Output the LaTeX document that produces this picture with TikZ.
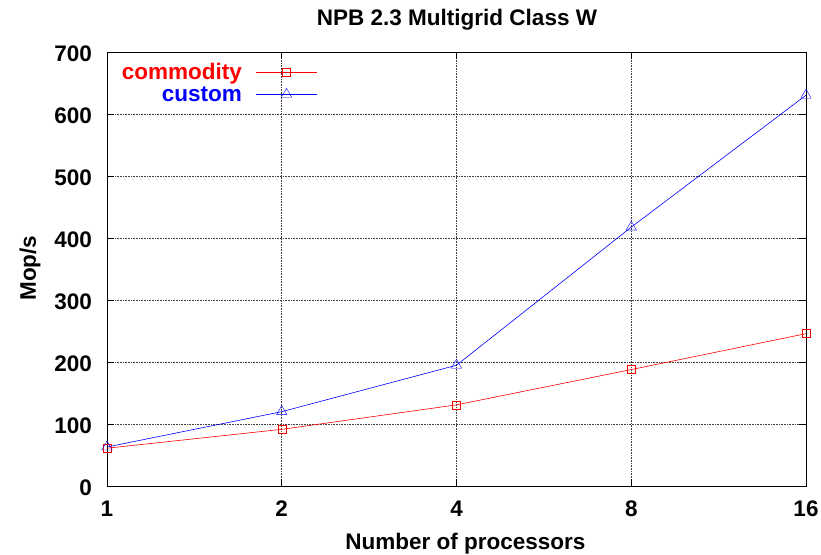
\documentclass[tikz,border=0pt]{standalone}
\usepackage{fontspec}
\setmainfont{Liberation Sans}
\usetikzlibrary{positioning, shapes.geometric}
\tikzset{x=1pt, y=1pt}
\tikzset{lbl/.style={font=\bfseries\fontsize{22.5}{24}\selectfont, inner sep=0pt}}
\tikzset{gridline/.style={black!75, densely dotted, line width=0.6pt}}
\tikzset{sqmark/.style={draw=red, rectangle, minimum size=8pt, inner sep=0pt}}
\tikzset{trimark/.style={draw=blue, regular polygon, regular polygon sides=3, minimum size=12pt, inner sep=0pt}}
\tikzset{comline/.style={red, line width=0.6pt}}
\tikzset{cusline/.style={blue, line width=0.6pt}}

\begin{document}
\begin{tikzpicture}
\useasboundingbox (0,0) rectangle (821,554);
% grid
\foreach \v in {100,200,...,600}
  \draw[gridline] (107,{68+0.6193*\v}) -- (806,{68+0.6193*\v});
\foreach \i in {1,2,3}
  \draw[gridline] ({107+174.75*\i},68) -- ({107+174.75*\i},501.5);
% ticks
\foreach \v in {0,100,...,700}{
  \draw[line width=0.8pt] (107,{68+0.6193*\v}) -- ++(7,0);
  \draw[line width=0.8pt] (806,{68+0.6193*\v}) -- ++(-7,0);
  \node[lbl, anchor=base east] at (92,{59+0.6193*\v}) {\v};
}
\foreach \lab [count=\i from 0] in {1,2,4,8,16}{
  \draw[line width=0.8pt] ({107+174.75*\i},68) -- ++(0,7);
  \draw[line width=0.8pt] ({107+174.75*\i},501.5) -- ++(0,-7);
  \node[lbl, anchor=base] at ({107+174.75*\i},38) {\lab};
}
\draw[line width=0.8pt] (107,68) rectangle (806,501.5);
% labels
\node[lbl, anchor=base] (title) at (457,528) {NPB 2.3 Multigrid Class W};
\node[lbl, anchor=base] (xlab) at (465.5,5) {Number of processors};
\node[lbl, rotate=90] (ylab) at (30,286) {Mop/s};
% data
\node[sqmark] (c1) at (107,{68+0.6193*61}) {};
\node[sqmark] (c2) at (281.75,{68+0.6193*91.5}) {};
\node[sqmark] (c3) at (456.5,{68+0.6193*131}) {};
\node[sqmark] (c4) at (631.25,{68+0.6193*188}) {};
\node[sqmark] (c5) at (806,{68+0.6193*246}) {};
\node[trimark] (u1) at (107,{68+0.6193*63}) {};
\node[trimark] (u2) at (281.75,{68+0.6193*120}) {};
\node[trimark] (u3) at (456.5,{68+0.6193*195}) {};
\node[trimark] (u4) at (631.25,{68+0.6193*418}) {};
\node[trimark] (u5) at (806,{68+0.6193*631}) {};
\draw[comline] (c1.center) -- (c2.center) -- (c3.center) -- (c4.center) -- (c5.center);
\draw[cusline] (u1.center) -- (u2.center) -- (u3.center) -- (u4.center) -- (u5.center);
% legend
\node[lbl, red, anchor=base east] (lc) at (242,474.5) {commodity};
\node[lbl, blue, anchor=base east] (lu) at (242,452.3) {custom};
\coordinate (lcs) at (256,481.7);
\coordinate (lce) at (317,481.7);
\coordinate (lus) at (256,459.7);
\coordinate (lue) at (317,459.7);
\draw[comline] (lcs) -- (lce);
\draw[cusline] (lus) -- (lue);
\node[sqmark] (lcm) at (286.5,481.7) {};
\node[trimark] (lum) at (286.5,459.7) {};
\end{tikzpicture}
\end{document}
